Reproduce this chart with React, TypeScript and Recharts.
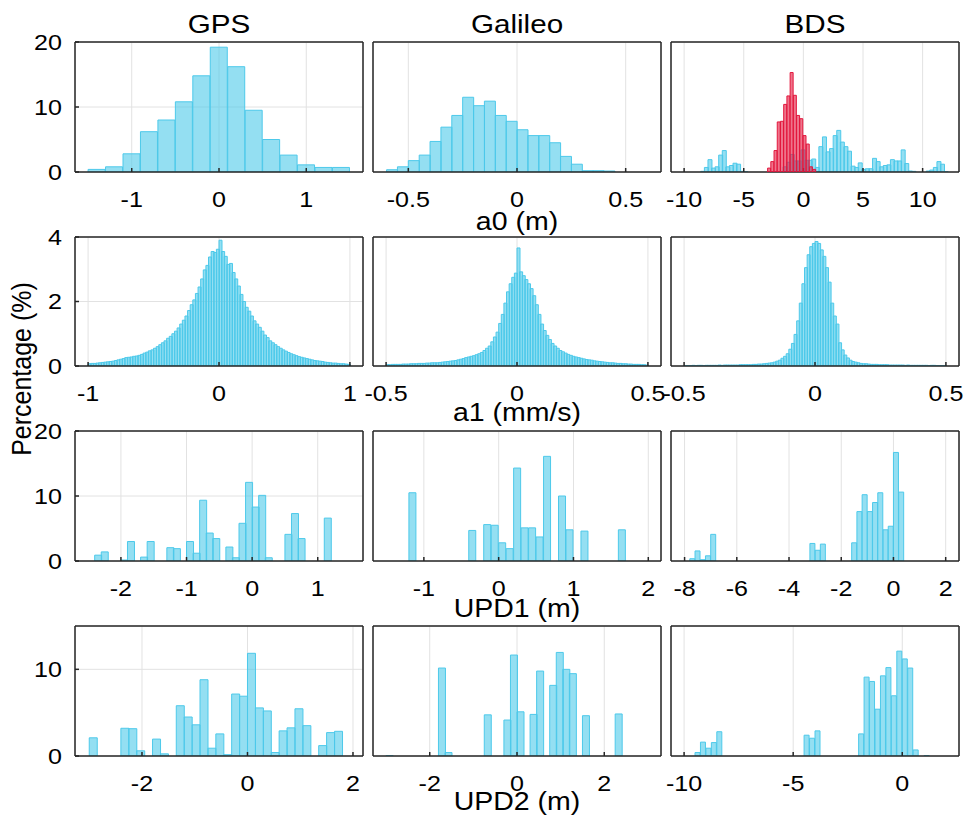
import React from 'react';
import { BarChart, Bar, XAxis, YAxis, CartesianGrid } from 'recharts';

const FONT = '"Liberation Sans", Arial, Helvetica, sans-serif';
const BLUE = '#4dc9ea';
const RED = '#e3173d';
const AXIS = '#262626';
const SX = 1.14; // the source figure's text is a little wider than Arial

// ---- a0 (m) ----
const gpsA0Start = -1.5;
const gpsA0Width = 0.2;
const gpsA0 = [0.4, 0.8, 2.8, 6.2, 8.0, 10.8, 14.8, 19.2, 16.2, 9.5, 5.0, 2.6, 1.1, 0.7, 0.7];

const galA0Start = -0.6;
const galA0Width = 0.05;
const galA0 = [0.35, 0.8, 1.75, 2.6, 4.7, 6.9, 8.7, 11.5, 10.2, 10.9, 8.7, 7.8, 6.5, 5.6, 5.6, 4.5, 2.4, 1.2, 0.2, 0.2, 0.15];

const bdsA0Start = -8.6;
const bdsA0Width = 0.3;
const bdsA0 = [
  0.1, 0.7, 1.9, 0.6, 0.8, 2.6, 3.3, 0.8, 1.0, 1.35, 1.2, 0.1, 0.05,
  0, 0, 0, 0, 0, 0, 0, 0, 0, 0,
  0.8, 1.5, 2.7, 1.7, 1.7, 3.4, 1.8, 1.8, 2.0, 0.7, 3.9, 5.4, 3.1, 3.6, 5.6, 6.4, 4.6, 3.9, 3.2,
  0.9, 0.7, 1.4, 0.4, 0.5, 0.5, 2.1, 1.6, 0.8, 1.0, 1.1, 1.9, 1.7, 1.7, 3.4, 1.3, 0.15, 0.1,
  0, 0, 0, 0.15, 0.3, 0.7, 1.6, 1.2, 0.05,
];

const bdsA0RedStart = -3.0;
const bdsA0RedWidth = 0.27;
const bdsA0Red = [0.6, 1.6, 3.3, 7.7, 7.8, 10.4, 11.7, 15.3, 11.8, 8.7, 8.2, 5.6, 4.3, 0.8, 0.4];

// ---- a1 (mm/s) ----
const gpsA1Start = -1.0;
const gpsA1Width = 0.02;
const gpsA1 = [
  0.07, 0.08, 0.08, 0.09, 0.10, 0.11, 0.12, 0.13, 0.14, 0.15,
  0.17, 0.19, 0.21, 0.23, 0.26, 0.27, 0.28, 0.30, 0.31, 0.33,
  0.36, 0.40, 0.43, 0.47, 0.50, 0.55, 0.60, 0.66, 0.72, 0.78,
  0.86, 0.92, 1.00, 1.08, 1.18, 1.30, 1.42, 1.55, 1.72, 1.90,
  2.05, 2.25, 2.45, 2.70, 2.98, 3.12, 3.38, 3.55, 3.52, 3.62,
  3.90, 3.55, 3.40, 3.15, 3.18, 2.90, 2.70, 2.48, 2.22, 2.00,
  1.82, 1.70, 1.55, 1.40, 1.30, 1.20, 1.08, 0.96, 0.88, 0.78,
  0.72, 0.66, 0.60, 0.55, 0.50, 0.46, 0.42, 0.38, 0.35, 0.32,
  0.29, 0.27, 0.25, 0.23, 0.21, 0.19, 0.17, 0.16, 0.15, 0.14,
  0.12, 0.11, 0.10, 0.09, 0.09, 0.08, 0.07, 0.07, 0.06, 0.05,
];

const galA1Start = -0.5;
const galA1Width = 0.01;
const galA1 = [
  0.04, 0.04, 0.05, 0.05, 0.05, 0.05, 0.06, 0.06, 0.06, 0.07,
  0.07, 0.07, 0.08, 0.08, 0.08, 0.09, 0.09, 0.10, 0.10, 0.10,
  0.11, 0.12, 0.13, 0.14, 0.15, 0.16, 0.17, 0.19, 0.21, 0.23,
  0.26, 0.28, 0.30, 0.32, 0.35, 0.38, 0.42, 0.48, 0.55, 0.62,
  0.75, 0.90, 1.05, 1.32, 1.60, 1.95, 2.30, 2.55, 2.75, 2.88,
  3.66, 2.92, 2.80, 2.68, 2.55, 2.40, 2.18, 1.90, 1.60, 1.30,
  1.10, 0.95, 0.82, 0.70, 0.62, 0.55, 0.48, 0.44, 0.40, 0.36,
  0.33, 0.30, 0.28, 0.26, 0.24, 0.22, 0.20, 0.19, 0.18, 0.16,
  0.15, 0.14, 0.13, 0.12, 0.11, 0.10, 0.10, 0.09, 0.08, 0.08,
  0.07, 0.07, 0.06, 0.06, 0.05, 0.05, 0.05, 0.04, 0.04, 0.03,
];

const bdsA1Start = -0.5;
const bdsA1Width = 0.01;
const bdsA1 = [
  0.01, 0.01, 0.01, 0.02, 0.01, 0.02, 0.02, 0.01, 0.02, 0.02,
  0.02, 0.02, 0.02, 0.03, 0.02, 0.03, 0.03, 0.03, 0.03, 0.03,
  0.03, 0.04, 0.04, 0.04, 0.04, 0.04, 0.05, 0.05, 0.06, 0.06,
  0.07, 0.08, 0.09, 0.10, 0.12, 0.15, 0.18, 0.24, 0.30, 0.38,
  0.52, 0.70, 0.98, 1.40, 1.95, 2.55, 3.05, 3.45, 3.70, 3.80,
  3.86, 3.80, 3.60, 3.40, 3.05, 2.60, 1.95, 1.55, 1.30, 0.72,
  0.50, 0.34, 0.25, 0.18, 0.14, 0.12, 0.10, 0.08, 0.07, 0.07,
  0.06, 0.05, 0.05, 0.05, 0.04, 0.04, 0.04, 0.04, 0.03, 0.03,
  0.03, 0.03, 0.03, 0.03, 0.02, 0.03, 0.02, 0.02, 0.02, 0.02,
  0.02, 0.02, 0.02, 0.01, 0.02, 0.02, 0.01, 0.01, 0.01, 0.01,
];

// ---- UPD1 (m) ----
const gpsU1Start = -2.4;
const gpsU1Width = 0.1;
const gpsU1 = [
  0.9, 1.4, 0, 0, 0.15, 3.0, 0, 0.6, 3.0, 0, 0, 2.05, 1.9, 0, 3.0, 1.2, 9.35, 4.3,
  3.45, 0, 2.15, 0.5, 5.8, 12.1, 8.3, 10.1, 0.5, 0, 0, 4.1, 7.3, 3.45, 0, 0, 0, 6.6,
];

const galU1Start = -1.2;
const galU1Width = 0.1;
const galU1 = [
  10.5, 0, 0, 0, 0, 0, 0, 0, 4.7, 0, 5.6, 5.5, 2.8, 1.9, 14.3, 5.1, 5.1, 3.7, 16.1,
  0, 10.0, 4.8, 0, 4.6, 0, 0, 0, 0, 4.8,
];

const bdsU1Start = -7.8;
const bdsU1Width = 0.2;
const bdsU1 = [
  0.35, 1.55, 0.2, 0.8, 4.1,
  0, 0, 0, 0, 0, 0, 0, 0, 0, 0, 0, 0, 0, 0, 0, 0, 0, 0,
  2.7, 1.65, 2.6, 0, 0, 0, 0, 0,
  2.8, 7.6, 10.2, 7.6, 9.0, 10.5, 4.8, 5.35, 16.7, 10.6,
];

// ---- UPD2 (m) ----
const gpsU2Start = -3.0;
const gpsU2Width = 0.15;
const gpsU2 = [
  2.1, 0, 0, 0, 3.2, 3.15, 0.6, 0, 1.95, 0.25, 0, 5.8, 4.5, 3.6, 8.8, 0.9,
  2.55, 0.15, 7.15, 6.9, 11.85, 5.55, 5.2, 0.4, 2.9, 3.25, 5.45, 3.5, 0, 1.2, 2.7, 2.85,
];

const galU2Start = -3.0;
const galU2Width = 0.15;
const galU2 = [
  0.05, 0, 0, 0, 0, 0, 0, 0, 10.15, 0.4, 0, 0, 0, 0, 0, 4.75, 0, 0,
  4.15, 11.65, 5.1, 0, 4.8, 9.8, 0, 8.15, 11.95, 10.0, 9.5, 0, 4.65, 0, 0, 0, 0, 4.85,
];

const bdsU2Start = -9.5;
const bdsU2Width = 0.25;
const bdsU2 = [
  0.4, 1.6, 0.9, 1.55, 2.8,
  0, 0, 0, 0, 0, 0, 0, 0, 0, 0, 0, 0, 0, 0, 0,
  2.4, 2.05, 2.9,
  0, 0, 0, 0, 0, 0, 0,
  2.55, 9.1, 8.6, 5.4, 9.25, 10.2, 6.95, 12.1, 11.2, 10.15, 0.7, 0, 0.05,
];

// ---- axes ----
const titles = ['GPS', 'Galileo', 'BDS'];
const rowLabels = ['a0 (m)', 'a1 (mm/s)', 'UPD1 (m)', 'UPD2 (m)'];
const rowLabelY = [230, 421, 617, 810];
const yDomains: [number, number][] = [[0, 20], [0, 4], [0, 20], [0, 15]];
const yTicks = [[0, 10, 20], [0, 2, 4], [0, 10, 20], [0, 10]];

type Bin = { x: number; v: number };
const toBins = (start: number, width: number, counts: number[]): Bin[] =>
  counts.map((v, i) => ({ x: start + width * (i + 0.5), v }));

const COL_LEFT = [75, 373, 671];
const ROW_TOP = [42, 237, 431, 626];
const ROW_H = [130, 129, 130, 130];
const PLOT_W = 288;
const YW = 60;
const XH = 50;
const PAD_R = 30;
const PAD_T = 20;

const XTick = (p: any) => (
  <text
    transform={`translate(${p.x},${p.y}) scale(${SX},1)`}
    textAnchor="middle" dy="0.71em" fontSize={22} fontFamily={FONT} fill="#000"
  >
    {String(p.payload.value)}
  </text>
);

const YTick = (p: any) => (
  <text
    transform={`translate(${p.x},${p.y}) scale(${SX},1)`}
    textAnchor="end" dy="0.355em" fontSize={22} fontFamily={FONT} fill="#000"
  >
    {String(p.payload.value)}
  </text>
);

interface PanelProps {
  data: Bin[];
  xDomain: [number, number];
  xTicks: number[];
  row: number;
  col: number;
  color?: string;
  bare?: boolean;
}

function Panel({ data, xDomain, xTicks, row, col, color = BLUE, bare = false }: PanelProps) {
  const h = ROW_H[row];
  const line = bare ? false : { stroke: AXIS, strokeWidth: 1.5 };
  return (
    <div style={{ position: 'absolute', left: COL_LEFT[col] - YW, top: ROW_TOP[row] - 1 - PAD_T }}>
      <BarChart
        width={YW + PLOT_W + 1 + PAD_R}
        height={PAD_T + 1 + h + XH}
        data={data}
        margin={{ top: PAD_T, right: PAD_R, bottom: 0, left: 0 }}
        barCategoryGap={0}
        barGap={0}
      >
        {!bare && <CartesianGrid stroke="#e2e2e2" strokeWidth={1} />}
        <Bar dataKey="v" fill={color} fillOpacity={0.6} stroke={color} strokeWidth={1} isAnimationActive={false} />
        <XAxis
          type="number" dataKey="x" domain={xDomain} ticks={xTicks} allowDataOverflow interval={0}
          height={XH} axisLine={line} tickLine={line} tickSize={-4} tickMargin={23}
          tick={bare ? false : XTick}
        />
        <XAxis
          xAxisId="top" orientation="top" type="number" dataKey="x" domain={xDomain} ticks={xTicks}
          allowDataOverflow interval={0} height={1} axisLine={line} tickLine={line} tickSize={-4} tick={false}
        />
        <YAxis
          type="number" domain={yDomains[row]} ticks={yTicks[row]} allowDataOverflow interval={0}
          width={YW} axisLine={line} tickLine={line} tickSize={-4} tickMargin={17}
          tick={bare || col > 0 ? false : YTick}
        />
        <YAxis
          yAxisId="right" orientation="right" type="number" domain={yDomains[row]} ticks={yTicks[row]}
          allowDataOverflow interval={0} width={1} axisLine={line} tickLine={line} tickSize={-4} tick={false}
        />
      </BarChart>
    </div>
  );
}

export default function App() {
  return (
    <div style={{ position: 'absolute', left: 0, top: 0, width: 975, height: 815, background: '#fff', overflow: 'hidden', fontFamily: FONT }}>
      <Panel row={0} col={0} data={toBins(gpsA0Start, gpsA0Width, gpsA0)} xDomain={[-1.65, 1.65]} xTicks={[-1, 0, 1]} />
      <Panel row={0} col={1} data={toBins(galA0Start, galA0Width, galA0)} xDomain={[-0.6625, 0.6625]} xTicks={[-0.5, 0, 0.5]} />
      <Panel row={0} col={2} data={toBins(bdsA0Start, bdsA0Width, bdsA0)} xDomain={[-11.1, 13.05]} xTicks={[-10, -5, 0, 5, 10]} />
      <Panel row={0} col={2} data={toBins(bdsA0RedStart, bdsA0RedWidth, bdsA0Red)} xDomain={[-11.1, 13.05]} xTicks={[-10, -5, 0, 5, 10]} color={RED} bare />

      <Panel row={1} col={0} data={toBins(gpsA1Start, gpsA1Width, gpsA1)} xDomain={[-1.1, 1.1]} xTicks={[-1, 0, 1]} />
      <Panel row={1} col={1} data={toBins(galA1Start, galA1Width, galA1)} xDomain={[-0.55, 0.55]} xTicks={[-0.5, 0, 0.5]} />
      <Panel row={1} col={2} data={toBins(bdsA1Start, bdsA1Width, bdsA1)} xDomain={[-0.55, 0.55]} xTicks={[-0.5, 0, 0.5]} />

      <Panel row={2} col={0} data={toBins(gpsU1Start, gpsU1Width, gpsU1)} xDomain={[-2.7, 1.69]} xTicks={[-2, -1, 0, 1]} />
      <Panel row={2} col={1} data={toBins(galU1Start, galU1Width, galU1)} xDomain={[-1.68, 2.17]} xTicks={[-1, 0, 1, 2]} />
      <Panel row={2} col={2} data={toBins(bdsU1Start, bdsU1Width, bdsU1)} xDomain={[-8.52, 2.51]} xTicks={[-8, -6, -4, -2, 0, 2]} />

      <Panel row={3} col={0} data={toBins(gpsU2Start, gpsU2Width, gpsU2)} xDomain={[-3.27, 2.19]} xTicks={[-2, 0, 2]} />
      <Panel row={3} col={1} data={toBins(galU2Start, galU2Width, galU2)} xDomain={[-3.3, 3.3]} xTicks={[-2, 0, 2]} />
      <Panel row={3} col={2} data={toBins(bdsU2Start, bdsU2Width, bdsU2)} xDomain={[-10.6, 2.6]} xTicks={[-10, -5, 0]} />

      <svg width={975} height={815} style={{ position: 'absolute', left: 0, top: 0, pointerEvents: 'none' }}>
        {titles.map((t, i) => (
          <text
            key={t} transform={`translate(${COL_LEFT[i] + PLOT_W / 2},33) scale(${SX},1)`}
            textAnchor="middle" fontSize={26} fontFamily={FONT} fill="#000"
          >
            {t}
          </text>
        ))}
        {rowLabels.map((t, i) => (
          <text
            key={t} transform={`translate(517,${rowLabelY[i]}) scale(${SX},1)`}
            textAnchor="middle" fontSize={25} fontFamily={FONT} fill="#000"
          >
            {t}
          </text>
        ))}
        <text
          transform={`translate(31,369) scale(${SX},1) rotate(-90)`}
          textAnchor="middle" fontSize={25} fontFamily={FONT} fill="#000"
        >
          Percentage (%)
        </text>
      </svg>
    </div>
  );
}
